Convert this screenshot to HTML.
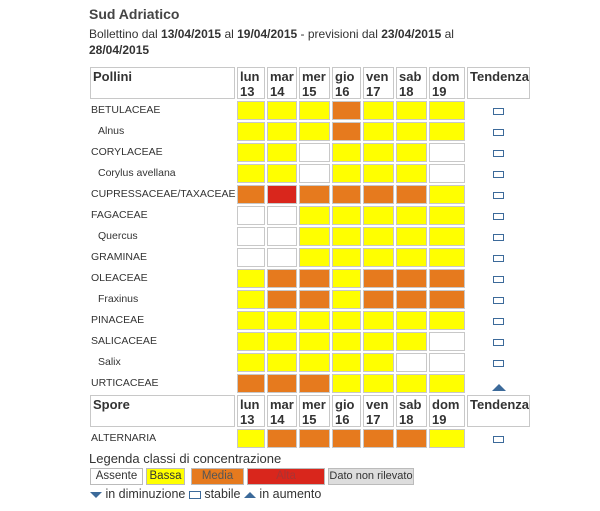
<!DOCTYPE html>
<html><head><meta charset="utf-8"><style>
body{margin:0;width:600px;height:511px;background:#fff;font-family:"Liberation Sans",sans-serif;color:#333;position:relative;overflow:hidden}
.a{position:absolute}
.c{position:absolute;box-sizing:border-box;border:1px solid #c8c8c8}
.h{position:absolute;box-sizing:border-box;border:1px solid #c8c8c8;font-weight:bold;font-size:13px;line-height:15px;padding:1px 2px;color:#333;white-space:nowrap;overflow:hidden}
.lab{position:absolute;font-size:10.5px;color:#333;white-space:nowrap}
.st{position:absolute;width:11px;height:7px;border:1px solid #3c6a9a;box-sizing:border-box}
.lg{position:absolute;box-sizing:border-box;border:1px solid #bbb;font-size:11.5px;text-align:center;line-height:15px;height:17px;white-space:nowrap;overflow:hidden}
</style></head><body>
<div class="a" style="left:89px;top:6px;font-weight:bold;font-size:14px;color:#444">Sud Adriatico</div>
<div class="a" style="left:89px;top:26px;font-size:12px;line-height:16px;color:#333">Bollettino dal <b>13/04/2015</b> al <b>19/04/2015</b> - previsioni dal <b>23/04/2015</b> al<br><b>28/04/2015</b></div>
<div id="t"></div>
<div class="a" style="left:89px;top:451px;font-size:13px;color:#333">Legenda classi di concentrazione</div>
<div class="lg" style="left:90px;top:468px;width:53px;background:#fff">Assente</div>
<div class="lg" style="left:146px;top:468px;width:39px;background:#ffff00">Bassa</div>
<div class="lg" style="left:191px;top:468px;width:53px;background:#e67a1e;color:#555">Media</div>
<div class="lg" style="left:247px;top:468px;width:78px;background:#d9261c;color:#a33">Alta</div>
<div class="lg" style="left:328px;top:468px;width:86px;background:#ddd;font-size:11px">Dato non rilevato</div>
<div class="a" style="left:90px;top:487px;font-size:12.5px;color:#333;white-space:nowrap">
<svg width="12" height="8" style="vertical-align:middle"><polygon points="0,1 12,1 6,7" fill="#3c6a9a"/></svg> in diminuzione
<span style="display:inline-block;width:10px;height:6px;border:1px solid #3c6a9a;vertical-align:middle"></span> stabile
<svg width="12" height="8" style="vertical-align:middle"><polygon points="0,7 12,7 6,1" fill="#3c6a9a"/></svg> in aumento</div>
<script>
const days=["lun 13","mar 14","mer 15","gio 16","ven 17","sab 18","dom 19"];
const pollenNames=["BETULACEAE","Alnus","CORYLACEAE","Corylus avellana","CUPRESSACEAE/TAXACEAE","FAGACEAE","Quercus","GRAMINAE","OLEACEAE","Fraxinus","PINACEAE","SALICACEAE","Salix","URTICACEAE"];
const pollenSub=[0,1,0,1,0,0,1,0,0,1,0,0,1,0];
const pollenLevels=[[1,1,1,2,1,1,1],[1,1,1,2,1,1,1],[1,1,0,1,1,1,0],[1,1,0,1,1,1,0],[2,3,2,2,2,2,1],[0,0,1,1,1,1,1],[0,0,1,1,1,1,1],[0,0,1,1,1,1,1],[1,2,2,1,2,2,2],[1,2,2,1,2,2,2],[1,1,1,1,1,1,1],[1,1,1,1,1,1,0],[1,1,1,1,1,0,0],[2,2,2,1,1,1,1]];
const pollenTrend=["s","s","s","s","s","s","s","s","s","s","s","s","s","u"];
const sporeNames=["ALTERNARIA"];
const sporeLevels=[[1,2,2,2,2,2,1]];
const sporeTrend=["s"];
const colors=["#ffffff","#ffff00","#e67a1e","#d9261c"];
const colX=[237,267,299,332,363,396,429],colW=[28,30,31,29,31,31,36];
const t=document.getElementById('t');
function mk(cls,css,html){const d=document.createElement('div');d.className=cls;d.style.cssText=css;if(html!=null)d.innerHTML=html;t.appendChild(d);return d;}
function header(y,first){
 let e=mk('h',`left:90px;top:${y}px;width:145px;height:32px`,first);
 
 
 days.forEach((d,i)=>{const p=d.split(' ');const h=mk('h',`left:${colX[i]}px;top:${y}px;width:${colW[i]}px;height:32px`,p[0]+'<br>'+p[1]);
 
 });
 e=mk('h',`left:467px;top:${y}px;width:63px;height:32px`,'Tendenza');
 
 
}
function rows(y0,names,sub,levels,trend){
 names.forEach((n,r)=>{const y=y0+r*21;
  const l=mk('lab',`left:${sub[r]?98:91}px;top:${y+3}px`,n);
  
  
  levels[r].forEach((v,i)=>{const c=mk('c',`left:${colX[i]}px;top:${y}px;width:${colW[i]}px;height:19px;background:${colors[v]}`);
   
   });
  let tr;
  if(trend[r]==='u'){tr=mk('a',`left:492px;top:${y+4}px`,'<svg width="14" height="8"><polygon points="0,8 14,8 7,1" fill="#3c6a9a"/></svg>');}
  else if(trend[r]==='d'){tr=mk('a',`left:492px;top:${y+5}px`,'<svg width="14" height="8"><polygon points="0,0 14,0 7,7" fill="#3c6a9a"/></svg>');}
  else tr=mk('st',`left:493px;top:${y+7}px`);
  
  
 });
}
header(67,'Pollini');
rows(101,pollenNames,pollenSub,pollenLevels,pollenTrend);
header(395,'Spore');
rows(429,sporeNames,[0],sporeLevels,sporeTrend);
</script>
</body></html>
